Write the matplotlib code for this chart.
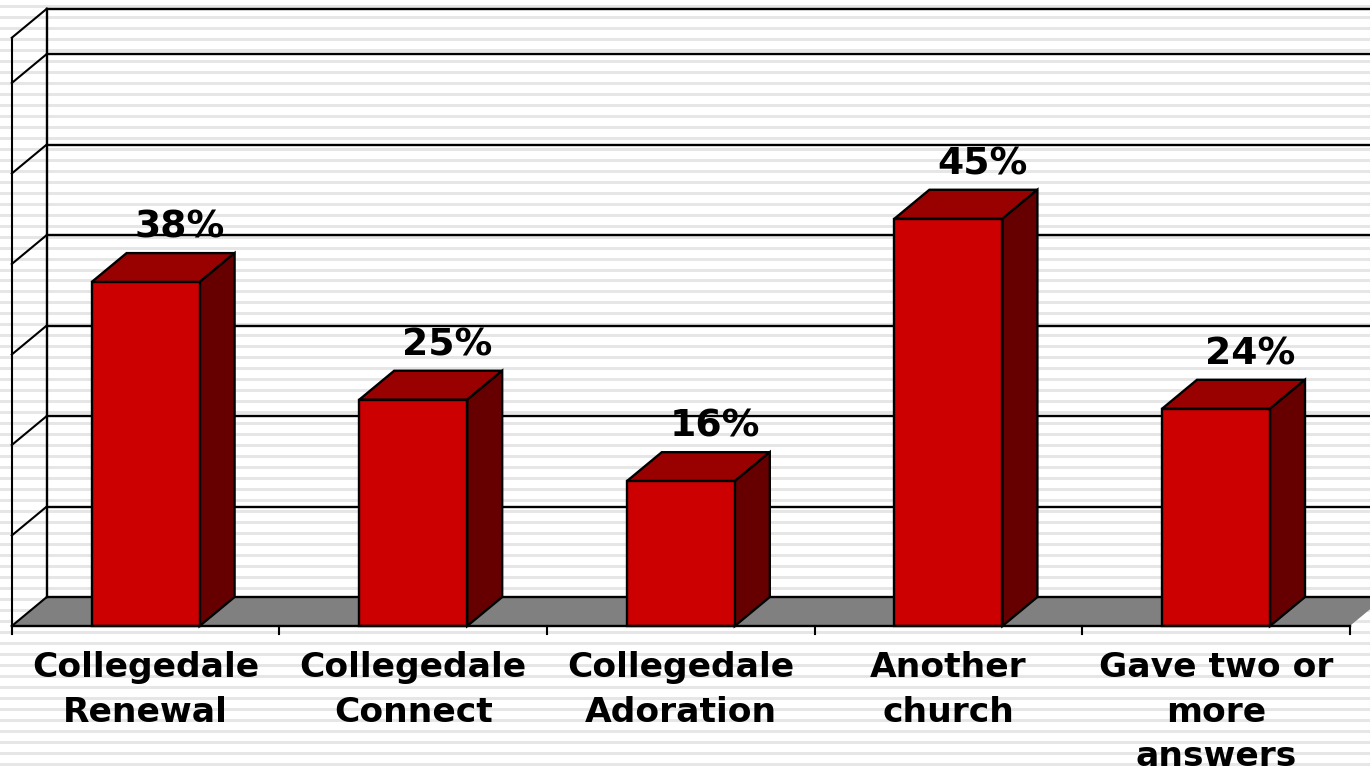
import matplotlib
matplotlib.use("Agg")
import matplotlib.pyplot as plt
from matplotlib.patches import Polygon, Rectangle
from matplotlib.transforms import IdentityTransform

categories = ["Collegedale\nRenewal", "Collegedale\nConnect", "Collegedale\nAdoration",
              "Another\nchurch", "Gave two or\nmore\nanswers"]
values = [38, 25, 16, 45, 24]
labels = ["38%", "25%", "16%", "45%", "24%"]
grid_levels = [0, 10, 20, 30, 40, 50, 60, 65]

W, H = 1370, 774
X0, UX = 11.8, 267.6      # pixel of x=0, pixels per category
Y0, UY = 626.0, 9.05      # pixel of y=0, pixels per percent
DX, DY = 35 / UX, 29 / UY # depth offset in data units
BW = 108 / UX
LW = 1.7
WALL_LW = 1.5
FONT = "DejaVu Sans"

fig = plt.figure(figsize=(W / 100, H / 100), dpi=100, facecolor="white")

# striped slide background
y = 5
while y < H:
    fig.add_artist(Rectangle((0, H - y - 3), W, 3, transform=IdentityTransform(),
                             facecolor="#E6E6E6", edgecolor="none", zorder=-5))
    y += 10.98

ax = fig.add_axes([0, 0, 1, 1], zorder=1)
ax.set_xlim(-X0 / UX, (W - X0) / UX)
ax.set_ylim((Y0 - H) / UY, Y0 / UY)
ax.axis("off")

n = len(values)
xmax = n

# floor
ax.add_patch(Polygon([(0, 0), (DX, DY), (xmax + DX, DY), (xmax, 0)], closed=True,
                     facecolor="#808080", edgecolor="none", zorder=1))

# back wall grid and side wall
for g in grid_levels:
    ax.plot([DX, xmax + DX], [g + DY, g + DY], color="black", lw=LW, zorder=1.5)
    ax.plot([0, DX], [g, g + DY], color="black", lw=WALL_LW, zorder=1.5)
ax.plot([DX, DX], [DY, 65 + DY], color="black", lw=LW, zorder=1.5)
ax.plot([0, 0], [0, 65], color="black", lw=WALL_LW, zorder=1.5)

# baseline and ticks
ax.plot([0, xmax], [0, 0], color="black", lw=LW, zorder=6)
for i in range(n + 1):
    ax.plot([i, i], [0, -0.9], color="black", lw=WALL_LW, zorder=6)

# bars
centers = [i + 0.5 for i in range(n)]
ax.bar(centers, values, width=BW, color="#CC0000", edgecolor="black", linewidth=LW, zorder=4)
for c, v, t in zip(centers, values, labels):
    l, r = c - BW / 2, c + BW / 2
    ax.add_patch(Polygon([(l, v), (l + DX, v + DY), (r + DX, v + DY), (r, v)], closed=True,
                         facecolor="#990000", edgecolor="black", lw=LW, zorder=3.5))
    ax.add_patch(Polygon([(r, 0), (r + DX, DY), (r + DX, v + DY), (r, v)], closed=True,
                         facecolor="#660000", edgecolor="black", lw=LW, zorder=3.5))
    ax.text(c + DX - 1.0 / UX, v + DY + 2.8, t, ha="center", va="center", fontsize=27.2,
            fontweight="bold", family=FONT, color="black", zorder=7)

# category labels
for c, t in zip(centers, categories):
    ax.text(c, -2.8, t, ha="center", va="top", fontsize=24.8, fontweight="bold",
            family=FONT, color="black", linespacing=1.44, zorder=7)

fig.savefig("out.png", dpi=100, facecolor="white")
